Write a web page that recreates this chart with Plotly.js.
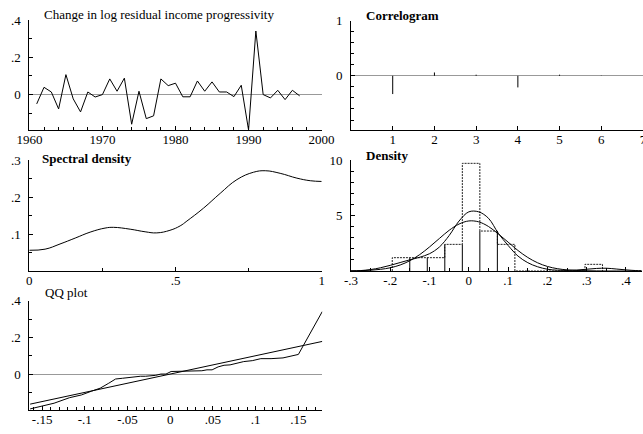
<!DOCTYPE html>
<html><head><meta charset="utf-8">
<script src="https://cdn.plot.ly/plotly-3.0.1.min.js"></script>
<style>html,body{margin:0;padding:0;background:#fff;}#chart{width:643px;height:434px;}</style>
</head><body><div id="chart"></div>
<script>
// ---- Data ----
const years = [1961,1962,1963,1964,1965,1966,1967,1968,1969,1970,1971,1972,1973,1974,1975,1976,1977,1978,1979,1980,1981,1982,1983,1984,1985,1986,1987,1988,1989,1990,1991,1992,1993,1994,1995,1996,1997];
const change = [-0.050,0.039,0.014,-0.077,0.107,-0.023,-0.093,0.014,-0.013,0.000,0.084,0.018,0.088,-0.159,0.018,-0.129,-0.114,0.084,0.048,0.061,-0.012,-0.012,0.073,0.018,0.068,0.014,0.014,-0.011,0.050,-0.190,0.341,0.000,-0.018,0.023,-0.027,0.023,-0.007];

const lags = [1,2,3,4,5,6];
const acf = [-0.33,0.06,0.02,-0.21,0.02,0.005];

const freq = [0,0.054,0.105,0.157,0.208,0.259,0.288,0.345,0.396,0.436,0.481,0.516,0.539,0.596,0.653,0.710,0.767,0.807,0.858,0.915,0.961,1.0];
const spectral = [0.056,0.059,0.073,0.089,0.105,0.116,0.118,0.113,0.106,0.103,0.110,0.122,0.135,0.170,0.210,0.247,0.267,0.271,0.264,0.251,0.244,0.242];

const histEdges = [-0.195,-0.1504,-0.1058,-0.0612,-0.0166,0.028,0.0726,0.1172,0.1618,0.2064,0.251,0.2956,0.3402];
const histDensity = [1.2,1.2,1.2,2.4,9.7,3.6,2.4,0,0,0,0,0.6];
const solidEdgeHeights = [1.2,1.2,2.4,2.4,3.6,3.6]; // interior edges 1..6

const densX = [-0.3,-0.275,-0.25,-0.225,-0.2,-0.175,-0.15,-0.125,-0.1,-0.075,-0.05,-0.025,0,0.025,0.05,0.075,0.1,0.125,0.15,0.175,0.2,0.225,0.25,0.275,0.3,0.325,0.35,0.375,0.4,0.425,0.44];
const kernelDens = [0.01,0.04,0.13,0.29,0.51,0.76,1.01,1.24,1.56,2.16,3.2,4.5,5.33,5.33,4.75,3.4,2.3,1.35,0.75,0.38,0.16,0.07,0.05,0.09,0.16,0.23,0.25,0.18,0.1,0.04,0.02];
const normalDens = [0.01,0.03,0.07,0.15,0.29,0.54,0.93,1.48,2.17,2.93,3.67,4.23,4.51,4.43,4.01,3.34,2.6,1.85,1.22,0.74,0.41,0.21,0.1,0.045,0.02,0.01,0,0,0,0,0];

const qqTheoretical = [-0.164,-0.136,-0.118,-0.104,-0.092,-0.082,-0.072,-0.064,-0.056,-0.049,-0.042,-0.035,-0.029,-0.023,-0.017,-0.011,-0.005,0.001,0.007,0.013,0.019,0.025,0.031,0.037,0.043,0.049,0.056,0.063,0.070,0.078,0.086,0.096,0.106,0.118,0.132,0.150,0.178];

const tsTicks = [1960,1970,1980,1990,2000];
const tsTickText = ['1960','1970','1980','1990','2000'];
const tsYTicks = [0,0.2,0.4];
const tsYText = ['0','.2','.4'];
const acfXTicks = [1,2,3,4,5,6,7];
const acfYTicks = [0,1];
const specXTicks = [0,0.5,1];
const specXText = ['0','.5','1'];
const specYTicks = [0.1,0.2,0.3];
const specYText = ['.1','.2','.3'];
const densXTicks = [-0.3,-0.2,-0.1,0,0.1,0.2,0.3,0.4];
const densXText = ['-.3','-.2','-.1','0','.1','.2','.3','.4'];
const densYTicks = [5,10];
const qqXTicks = [-0.15,-0.1,-0.05,0,0.05,0.1,0.15];
const qqXText = ['-.15','-.1','-.05','0','.05','.1','.15'];
const qqYTicks = [0,0.2,0.4];
const qqYText = ['0','.2','.4'];

// ---- Derived geometry ----
const W = 643, H = 434;
const px = v => v / W;
const py = v => 1 - v / H;

const spikeX = [], spikeY = [];
lags.forEach((l, i) => { spikeX.push(l, l, null); spikeY.push(0, acf[i], null); });

const histX = [histEdges[0]], histY = [0];
histDensity.forEach((h, k) => { histX.push(histEdges[k], histEdges[k+1]); histY.push(h, h); });
histX.push(histEdges[histEdges.length-1]); histY.push(0);

const solX = [], solY = [];
solidEdgeHeights.forEach((h, i) => { solX.push(histEdges[i+1], histEdges[i+1], null); solY.push(0, h, null); });

const qqSorted = change.slice().sort((a, b) => a - b);
const qqLineX = [qqTheoretical[0], qqTheoretical[qqTheoretical.length-1]];

const black = '#000';
const lineStyle = {color: black, width: 1};

const traces = [
  {x: years, y: change, mode: 'lines', line: lineStyle, xaxis: 'x', yaxis: 'y'},
  {x: spikeX, y: spikeY, mode: 'lines', line: lineStyle, xaxis: 'x2', yaxis: 'y2'},
  {x: freq, y: spectral, mode: 'lines', line: {color: black, width: 1, shape: 'spline', smoothing: 1.2}, xaxis: 'x3', yaxis: 'y3'},
  {x: histX, y: histY, mode: 'lines', line: {color: '#222', width: 1, dash: '2px,1px'}, xaxis: 'x4', yaxis: 'y4'},
  {x: solX, y: solY, mode: 'lines', line: lineStyle, xaxis: 'x4', yaxis: 'y4'},
  {x: densX, y: kernelDens, mode: 'lines', line: {color: black, width: 1, shape: 'spline'}, xaxis: 'x4', yaxis: 'y4'},
  {x: densX, y: normalDens, mode: 'lines', line: {color: black, width: 1, shape: 'spline'}, xaxis: 'x4', yaxis: 'y4'},
  {x: qqTheoretical, y: qqSorted, mode: 'lines', line: lineStyle, xaxis: 'x5', yaxis: 'y5'},
  {x: qqLineX, y: qqLineX, mode: 'lines', line: lineStyle, xaxis: 'x5', yaxis: 'y5'}
];

const font = {family: '"Liberation Serif", "Times New Roman", "DejaVu Serif", serif', size: 13, color: black};
function ax(extra) {
  return Object.assign({
    showline: true, linecolor: black, linewidth: 1, mirror: false,
    showgrid: false, zeroline: false, ticks: 'inside', ticklen: 4, tickwidth: 1,
    tickcolor: black, tickfont: font, tickmode: 'array', fixedrange: true
  }, extra);
}
function minor(t0, dt) {
  return {ticks: 'inside', ticklen: 3, tickwidth: 1, tickcolor: black, tickmode: 'linear', tick0: t0, dtick: dt, showgrid: false};
}
const xs = -3, ys = 5;

const layout = {
  width: W, height: H, margin: {l: 0, r: 0, t: 0, b: 0},
  paper_bgcolor: '#fff', plot_bgcolor: '#fff', showlegend: false, font: font,
  xaxis: ax({domain: [px(29.4), px(321.6)], range: [1960, 2000], tickvals: tsTicks, ticktext: tsTickText, minor: minor(1960, 2), anchor: 'y', ticklabelstandoff: xs, ticklabeloverflow: 'allow'}),
  yaxis: ax({domain: [py(130), py(20)], range: [-0.19, 0.4], tickvals: tsYTicks, ticktext: tsYText, minor: minor(0, 0.1), anchor: 'x', zeroline: true, zerolinecolor: '#999', zerolinewidth: 1, ticklabelstandoff: ys}),
  xaxis2: ax({domain: [px(351), 1], range: [0, 7], tickvals: acfXTicks, anchor: 'y2', ticklabelstandoff: xs, ticklabeloverflow: 'allow'}),
  yaxis2: ax({domain: [py(130), py(20.5)], range: [-0.98, 1], tickvals: acfYTicks, minor: minor(0, 0.2), anchor: 'x2', zeroline: true, zerolinecolor: '#999', zerolinewidth: 1, ticklabelstandoff: ys}),
  xaxis3: ax({domain: [px(29.3), px(321.7)], range: [0, 1], tickvals: specXTicks, ticktext: specXText, minor: minor(0, 0.25), anchor: 'y3', ticklabelstandoff: xs, ticklabeloverflow: 'allow'}),
  yaxis3: ax({domain: [py(271), py(160)], range: [0, 0.3], tickvals: specYTicks, ticktext: specYText, minor: minor(0, 0.05), anchor: 'x3', ticklabelstandoff: ys}),
  xaxis4: ax({domain: [px(351), px(641.7)], range: [-0.3, 0.44], tickvals: densXTicks, ticktext: densXText, minor: minor(-0.3, 0.05), anchor: 'y4', ticklabelstandoff: xs, ticklabeloverflow: 'allow'}),
  yaxis4: ax({domain: [py(271), py(160)], range: [0, 10], tickvals: densYTicks, minor: minor(0, 1), anchor: 'x4', ticklabelstandoff: ys}),
  xaxis5: ax({domain: [px(29.3), px(322.3)], range: [-0.165, 0.178], tickvals: qqXTicks, ticktext: qqXText, minor: minor(-0.2, 0.01), anchor: 'y5', ticklabelstandoff: xs, ticklabeloverflow: 'allow'}),
  yaxis5: ax({domain: [py(410), py(300.7)], range: [-0.196, 0.4], tickvals: qqYTicks, ticktext: qqYText, minor: minor(0, 0.1), anchor: 'x5', zeroline: true, zerolinecolor: '#999', zerolinewidth: 1, ticklabelstandoff: ys}),
  annotations: [
    {text: 'Change in log residual income progressivity', x: px(42), y: py(14.5), xref: 'paper', yref: 'paper', xanchor: 'left', yanchor: 'middle', showarrow: false, font: font},
    {text: '<b>Correlogram</b>', x: px(364), y: py(15), xref: 'paper', yref: 'paper', xanchor: 'left', yanchor: 'middle', showarrow: false, font: font},
    {text: '<b>Spectral density</b>', x: px(40), y: py(158), xref: 'paper', yref: 'paper', xanchor: 'left', yanchor: 'middle', showarrow: false, font: font},
    {text: '<b>Density</b>', x: px(364), y: py(155), xref: 'paper', yref: 'paper', xanchor: 'left', yanchor: 'middle', showarrow: false, font: font},
    {text: 'QQ plot', x: px(42.7), y: py(292), xref: 'paper', yref: 'paper', xanchor: 'left', yanchor: 'middle', showarrow: false, font: font}
  ]
};

Plotly.newPlot('chart', traces, layout, {staticPlot: true, displayModeBar: false});
</script>
</body></html>
